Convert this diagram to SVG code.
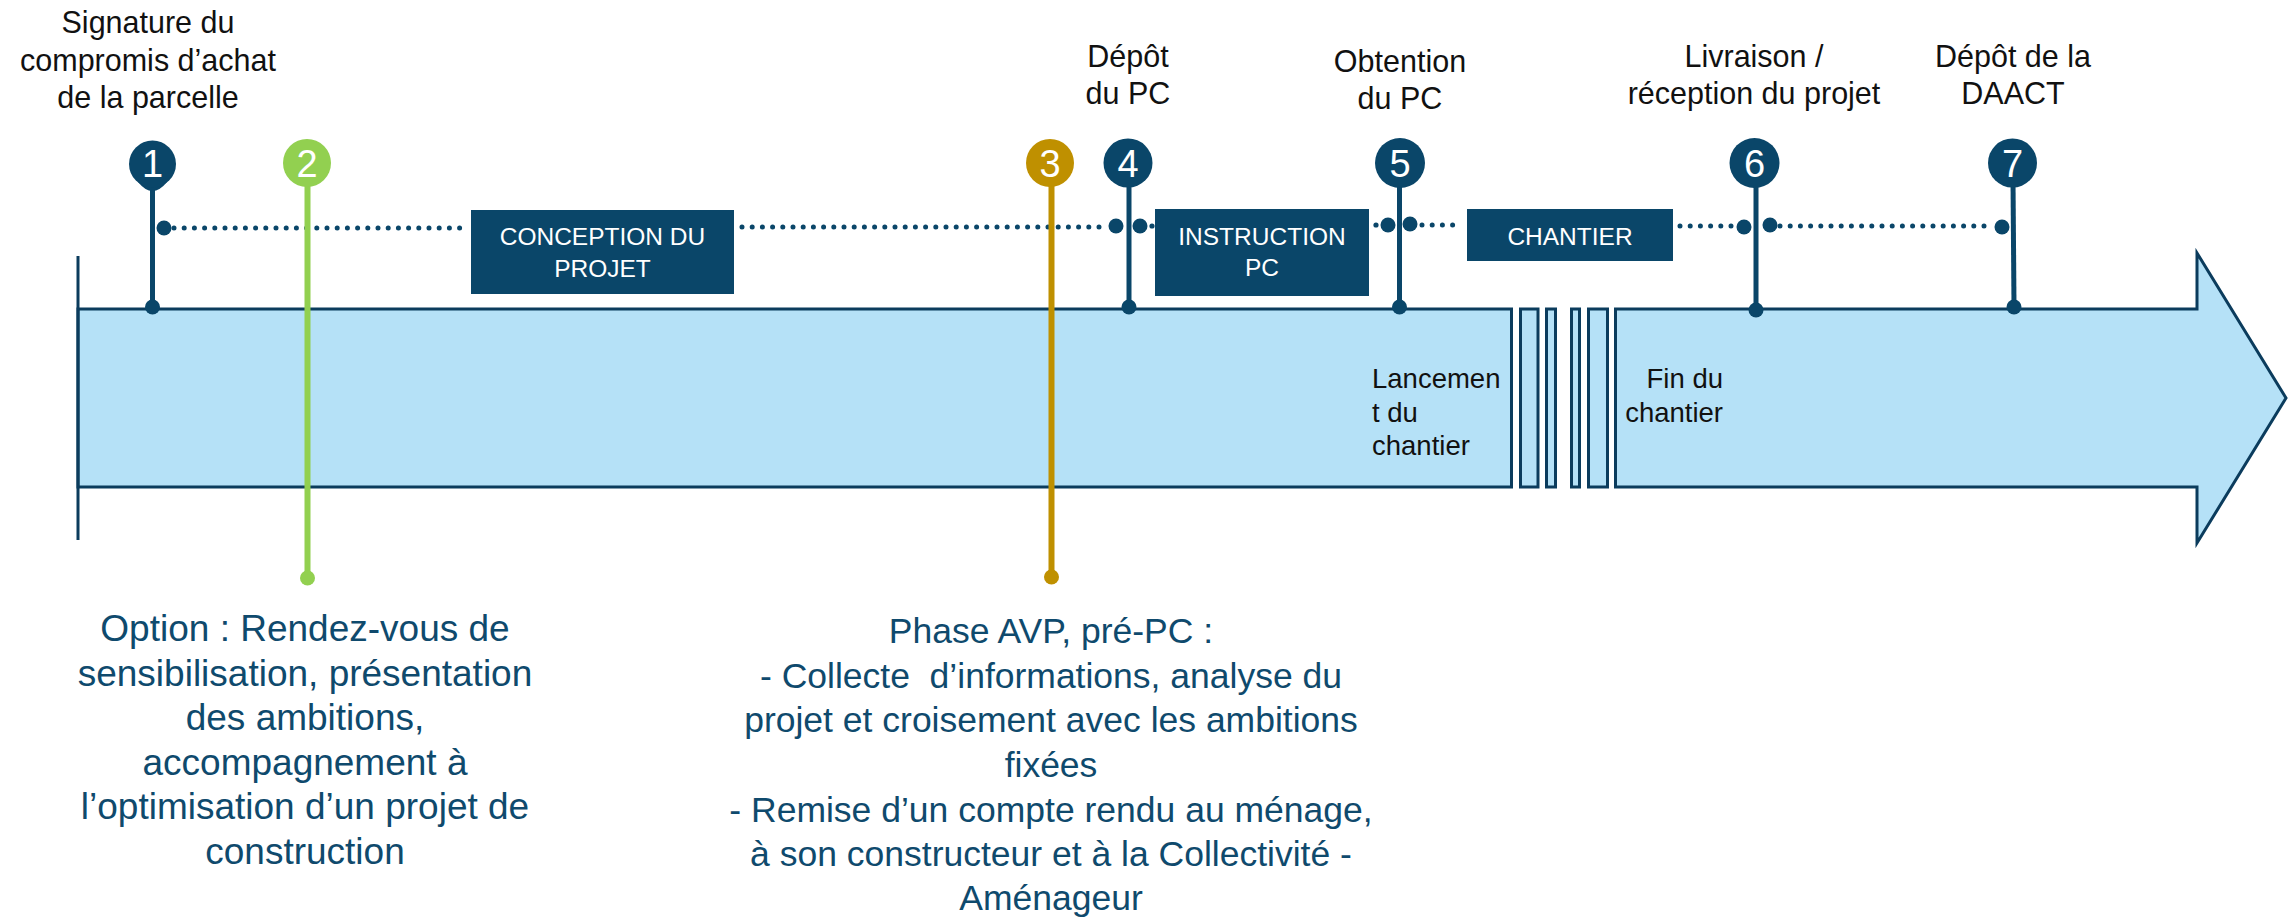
<svg xmlns="http://www.w3.org/2000/svg" width="2295" height="918" viewBox="0 0 2295 918">
<style>
.lbl{font-family:"Liberation Sans",Arial,sans-serif;font-size:30.5px;fill:#111;text-anchor:middle}
.box{fill:#0a4669}
.btxt{font-family:"Liberation Sans",Arial,sans-serif;font-size:24.5px;fill:#fff;text-anchor:middle}
.num{font-family:"Liberation Sans",Arial,sans-serif;font-size:38px;fill:#fff;text-anchor:middle}
.desc{font-family:"Liberation Sans",Arial,sans-serif;fill:#0f4a6d;text-anchor:middle}
.inbar{font-family:"Liberation Sans",Arial,sans-serif;font-size:27.5px;fill:#111}
.bar{fill:#b5e1f7;stroke:#0b3c5d;stroke-width:3}
.dots{stroke:#0a4669;stroke-width:5;stroke-linecap:round;stroke-dasharray:0 10.2;fill:none}
.stem{stroke:#0a4669;stroke-width:5}
.dot{fill:#0a4669}
</style>

<g id="timeline-bar">
  <rect class="bar" x="78" y="309" width="1433.5" height="178"/>
  <rect class="bar" x="1520.5" y="309" width="17.5" height="178"/>
  <rect class="bar" x="1546.5" y="309" width="9" height="178"/>
  <rect class="bar" x="1571.5" y="309" width="8" height="178"/>
  <rect class="bar" x="1588.5" y="309" width="19" height="178"/>
  <polygon class="bar" points="1615.5,309 2197,309 2197,253 2286,398 2197,543 2197,487 1615.5,487"/>
  <line x1="78" y1="256" x2="78" y2="540" stroke="#0b3c5d" stroke-width="3"/>
  <text class="inbar" x="1372" y="388">Lancemen</text>
  <text class="inbar" x="1372" y="422">t du</text>
  <text class="inbar" x="1372" y="455">chantier</text>
  <text class="inbar" x="1723" y="388" text-anchor="end">Fin du</text>
  <text class="inbar" x="1723" y="422" text-anchor="end">chantier</text>
</g>

<g id="connectors">
  <line class="dots" x1="174" y1="228" x2="466" y2="228"/>
  <line class="dots" x1="742" y1="227" x2="1106" y2="227"/>
  <circle class="dot" cx="1152" cy="226" r="2.6"/>
  <circle class="dot" cx="1376" cy="225" r="2.6"/>
  <line class="dots" x1="1422" y1="225" x2="1462" y2="225"/>
  <line class="dots" x1="1680" y1="226" x2="1734" y2="226"/>
  <line class="dots" x1="1780" y1="226" x2="1994" y2="226"/>
</g>

<g id="box-conception">
  <rect class="box" x="471" y="210" width="263" height="84"/>
  <text class="btxt" x="602.5" y="245">CONCEPTION DU</text>
  <text class="btxt" x="602.5" y="277">PROJET</text>
</g>
<g id="box-instruction">
  <rect class="box" x="1155" y="209" width="214" height="87"/>
  <text class="btxt" x="1262" y="245">INSTRUCTION</text>
  <text class="btxt" x="1262" y="276">PC</text>
</g>
<g id="box-chantier">
  <rect class="box" x="1467" y="209" width="206" height="52"/>
  <text class="btxt" x="1570" y="245">CHANTIER</text>
</g>

<g id="m1">
  <text class="lbl" x="148" y="33">Signature du</text>
  <text class="lbl" x="148" y="71">compromis d’achat</text>
  <text class="lbl" x="148" y="108">de la parcelle</text>
  <line class="stem" x1="152.5" y1="180" x2="152.5" y2="306"/>
  <path class="dot" d="M138,182 Q152.5,200 167,182 Z"/>
  <circle class="dot" cx="152.5" cy="164" r="23.5"/>
  <circle class="dot" cx="164" cy="228" r="7.5"/>
  <circle class="dot" cx="152.5" cy="307" r="7.5"/>
  <text class="num" x="152.5" y="177">1</text>
</g>

<g id="m2">
  <line x1="307.5" y1="180" x2="307.5" y2="578" stroke="#92d050" stroke-width="6"/>
  <circle cx="307" cy="163" r="24" fill="#92d050"/>
  <circle cx="307.5" cy="578" r="7.5" fill="#92d050"/>
  <text class="num" x="307" y="177">2</text>
  <text class="desc" font-size="37" x="305" y="641">Option : Rendez-vous de</text>
  <text class="desc" font-size="37" x="305" y="685.6">sensibilisation, présentation</text>
  <text class="desc" font-size="37" x="305" y="730.2">des ambitions,</text>
  <text class="desc" font-size="37" x="305" y="774.8">accompagnement à</text>
  <text class="desc" font-size="37" x="305" y="819.4">l’optimisation d’un projet de</text>
  <text class="desc" font-size="37" x="305" y="864">construction</text>
</g>

<g id="m3">
  <line x1="1051.5" y1="180" x2="1051.5" y2="577" stroke="#bf9000" stroke-width="6"/>
  <circle cx="1050" cy="163" r="24" fill="#bf9000"/>
  <circle cx="1051.5" cy="577" r="7.5" fill="#bf9000"/>
  <text class="num" x="1050" y="177">3</text>
  <text class="desc" font-size="35.5" x="1051" y="643">Phase AVP, pré-PC :</text>
  <text class="desc" font-size="35.5" x="1051" y="688" xml:space="preserve" style="white-space:pre">- Collecte  d’informations, analyse du</text>
  <text class="desc" font-size="35.5" x="1051" y="732">projet et croisement avec les ambitions</text>
  <text class="desc" font-size="35.5" x="1051" y="777">fixées</text>
  <text class="desc" font-size="35.5" x="1051" y="822">- Remise d’un compte rendu au ménage,</text>
  <text class="desc" font-size="35.5" x="1051" y="866">à son constructeur et à la Collectivité -</text>
  <text class="desc" font-size="35.5" x="1051" y="910">Aménageur</text>
</g>

<g id="m4">
  <text class="lbl" x="1128" y="67">Dépôt</text>
  <text class="lbl" x="1128" y="104">du PC</text>
  <line class="stem" x1="1129" y1="180" x2="1129" y2="306"/>
  <circle class="dot" cx="1128" cy="163" r="24.5"/>
  <circle class="dot" cx="1116" cy="226" r="7.5"/>
  <circle class="dot" cx="1140" cy="226" r="7.5"/>
  <circle class="dot" cx="1129" cy="307" r="7.5"/>
  <text class="num" x="1128" y="177">4</text>
</g>

<g id="m5">
  <text class="lbl" x="1400" y="72">Obtention</text>
  <text class="lbl" x="1400" y="109">du PC</text>
  <line class="stem" x1="1399.5" y1="180" x2="1399.5" y2="306"/>
  <circle class="dot" cx="1400" cy="163" r="25"/>
  <circle class="dot" cx="1388" cy="225" r="7.5"/>
  <circle class="dot" cx="1410" cy="224" r="7.5"/>
  <circle class="dot" cx="1399.5" cy="307" r="7.5"/>
  <text class="num" x="1400" y="177">5</text>
</g>

<g id="m6">
  <text class="lbl" x="1754" y="67">Livraison /</text>
  <text class="lbl" x="1754" y="104">réception du projet</text>
  <line class="stem" x1="1756" y1="180" x2="1756" y2="309"/>
  <circle class="dot" cx="1754.5" cy="163" r="25"/>
  <circle class="dot" cx="1744" cy="227" r="7.5"/>
  <circle class="dot" cx="1770" cy="225" r="7.5"/>
  <circle class="dot" cx="1756" cy="310" r="7.5"/>
  <text class="num" x="1754.5" y="177">6</text>
</g>

<g id="m7">
  <text class="lbl" x="2013" y="67">Dépôt de la</text>
  <text class="lbl" x="2013" y="104">DAACT</text>
  <line class="stem" x1="2013" y1="180" x2="2014" y2="306"/>
  <circle class="dot" cx="2012.5" cy="163" r="24.5"/>
  <circle class="dot" cx="2002" cy="227" r="7.5"/>
  <circle class="dot" cx="2014" cy="307" r="7.5"/>
  <text class="num" x="2012.5" y="177">7</text>
</g>
</svg>
